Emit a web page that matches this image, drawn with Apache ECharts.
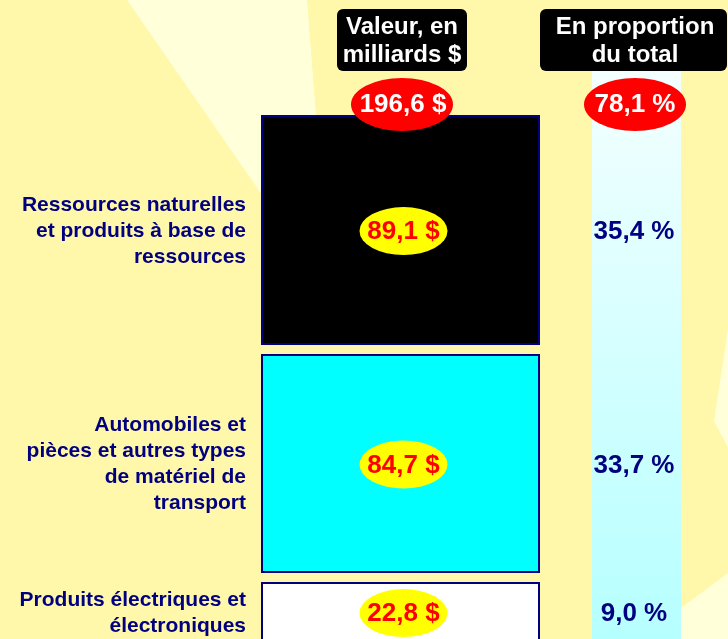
<!DOCTYPE html>
<html>
<head>
<meta charset="utf-8">
<script src="https://cdn.jsdelivr.net/npm/echarts@6/dist/echarts.min.js"></script>
<style>
  html, body { margin: 0; padding: 0; }
  #chart { width: 728px; height: 639px; }
</style>
</head>
<body>
<div id="chart"></div>
<script>
// exportations, en milliards $
const categories = [
  'Ressources naturelles\net produits à base de\nressources',
  'Automobiles et\npièces et autres types\nde matériel de\ntransport',
  'Produits électriques et\nélectroniques'
];
const values = [89.1, 84.7, 22.8];
const shares = [35.4, 33.7, 9.0];
const headers = ['Valeur, en\nmilliards $', 'En proportion\ndu total'];

const FONT = '"Liberation Sans", Arial, sans-serif';
const NAVY = '#000080';
const fillColors = ['#000000', '#00FFFF', '#FFFFFF'];
const GAP = 11;

const fmt = (v) => v.toFixed(1).replace('.', ',');

const total = values.reduce((a, b) => a + b, 0);
const totalShare = shares.reduce((a, b) => a + b, 0);

let cum = 0;
const seriesData = values.map((v, i) => {
  const item = [0, cum, cum + v, i];
  cum += v;
  return item;
});

function renderItem(params, api) {
  const i = api.value(3);
  const cs = params.coordSys;
  const yTop = api.coord([0, api.value(1)])[1] + i * GAP;
  const yBot = api.coord([0, api.value(2)])[1] + i * GAP;
  const cx = cs.x + cs.width / 2;
  const cy = (yTop + yBot) / 2;
  return {
    type: 'group',
    children: [
      {
        type: 'rect',
        shape: { x: cs.x, y: yTop, width: cs.width, height: yBot - yTop },
        style: { fill: fillColors[i], stroke: NAVY, lineWidth: 2 }
      },
      {
        type: 'circle',
        x: cx + 3, y: cy + 1,
        scaleY: 24 / 44,
        shape: { cx: 0, cy: 0, r: 44 },
        style: { fill: '#FFFF00' }
      },
      {
        type: 'text',
        x: cx + 3, y: cy + 2,
        style: {
          text: fmt(values[i]) + ' $',
          fill: '#FF0000', font: 'bold 26px ' + FONT,
          align: 'center', verticalAlign: 'middle'
        }
      },
      {
        type: 'text',
        x: cs.x - 16, y: cy + 1,
        style: {
          text: categories[i],
          fill: NAVY, font: 'bold 21px ' + FONT, lineHeight: 26,
          align: 'right', verticalAlign: 'middle'
        }
      },
      {
        type: 'text',
        x: 634, y: cy + 2,
        style: {
          text: fmt(shares[i]) + ' %',
          fill: NAVY, font: 'bold 26px ' + FONT,
          align: 'center', verticalAlign: 'middle'
        }
      }
    ]
  };
}

const chart = echarts.init(document.getElementById('chart'));
chart.setOption({
  backgroundColor: '#FFF7AA',
  animation: false,
  grid: { left: 262, width: 277, top: 116, bottom: 19.7 },
  xAxis: { type: 'category', data: [''], show: false },
  yAxis: { type: 'value', inverse: true, min: 0, max: total, show: false },
  graphic: [
    // rayons de l'arrière-plan
    { type: 'polygon', z: 0, shape: { points: [[127, 0], [307, 0], [330, 293]] }, style: { fill: '#FFFFD9' } },
    { type: 'polygon', z: 0, shape: { points: [[714, 421], [740, 250], [740, 470]] }, style: { fill: '#FFFFD9' } },
    { type: 'polygon', z: 0, shape: { points: [[639, 639], [728, 573], [728, 639]] }, style: { fill: '#FFFFD9' } },
    // colonne des proportions
    {
      type: 'rect', z: 1,
      shape: { x: 592, y: 71, width: 89, height: 568 },
      style: {
        fill: new echarts.graphic.LinearGradient(0, 0, 0, 1, [
          { offset: 0, color: '#F4FFFF' },
          { offset: 1, color: '#B6FFFF' }
        ])
      }
    },
    // en-têtes
    { type: 'rect', z: 100, shape: { x: 337, y: 9, width: 130, height: 62, r: 6 }, style: { fill: '#000000' } },
    {
      type: 'text', z: 101, x: 402, y: 41,
      style: { text: headers[0], fill: '#FFFFFF', font: 'bold 24px ' + FONT, lineHeight: 28, align: 'center', verticalAlign: 'middle' }
    },
    { type: 'rect', z: 100, shape: { x: 540, y: 9, width: 187, height: 62, r: 6 }, style: { fill: '#000000' } },
    {
      type: 'text', z: 101, x: 635, y: 41,
      style: { text: headers[1], fill: '#FFFFFF', font: 'bold 24px ' + FONT, lineHeight: 28, align: 'center', verticalAlign: 'middle' }
    },
    // totaux
    { type: 'circle', z: 100, x: 402, y: 104.5, scaleY: 26.5 / 51, shape: { cx: 0, cy: 0, r: 51 }, style: { fill: '#FF0000' } },
    {
      type: 'text', z: 101, x: 403, y: 105,
      style: { text: fmt(total) + ' $', fill: '#FFFFFF', font: 'bold 26px ' + FONT, align: 'center', verticalAlign: 'middle' }
    },
    { type: 'circle', z: 100, x: 635, y: 104.5, scaleY: 26.5 / 51, shape: { cx: 0, cy: 0, r: 51 }, style: { fill: '#FF0000' } },
    {
      type: 'text', z: 101, x: 635, y: 105,
      style: { text: fmt(totalShare) + ' %', fill: '#FFFFFF', font: 'bold 26px ' + FONT, align: 'center', verticalAlign: 'middle' }
    }
  ],
  series: [
    {
      type: 'custom',
      z: 10,
      renderItem: renderItem,
      encode: { x: 0, y: [1, 2] },
      data: seriesData
    }
  ]
});
</script>
</body>
</html>
